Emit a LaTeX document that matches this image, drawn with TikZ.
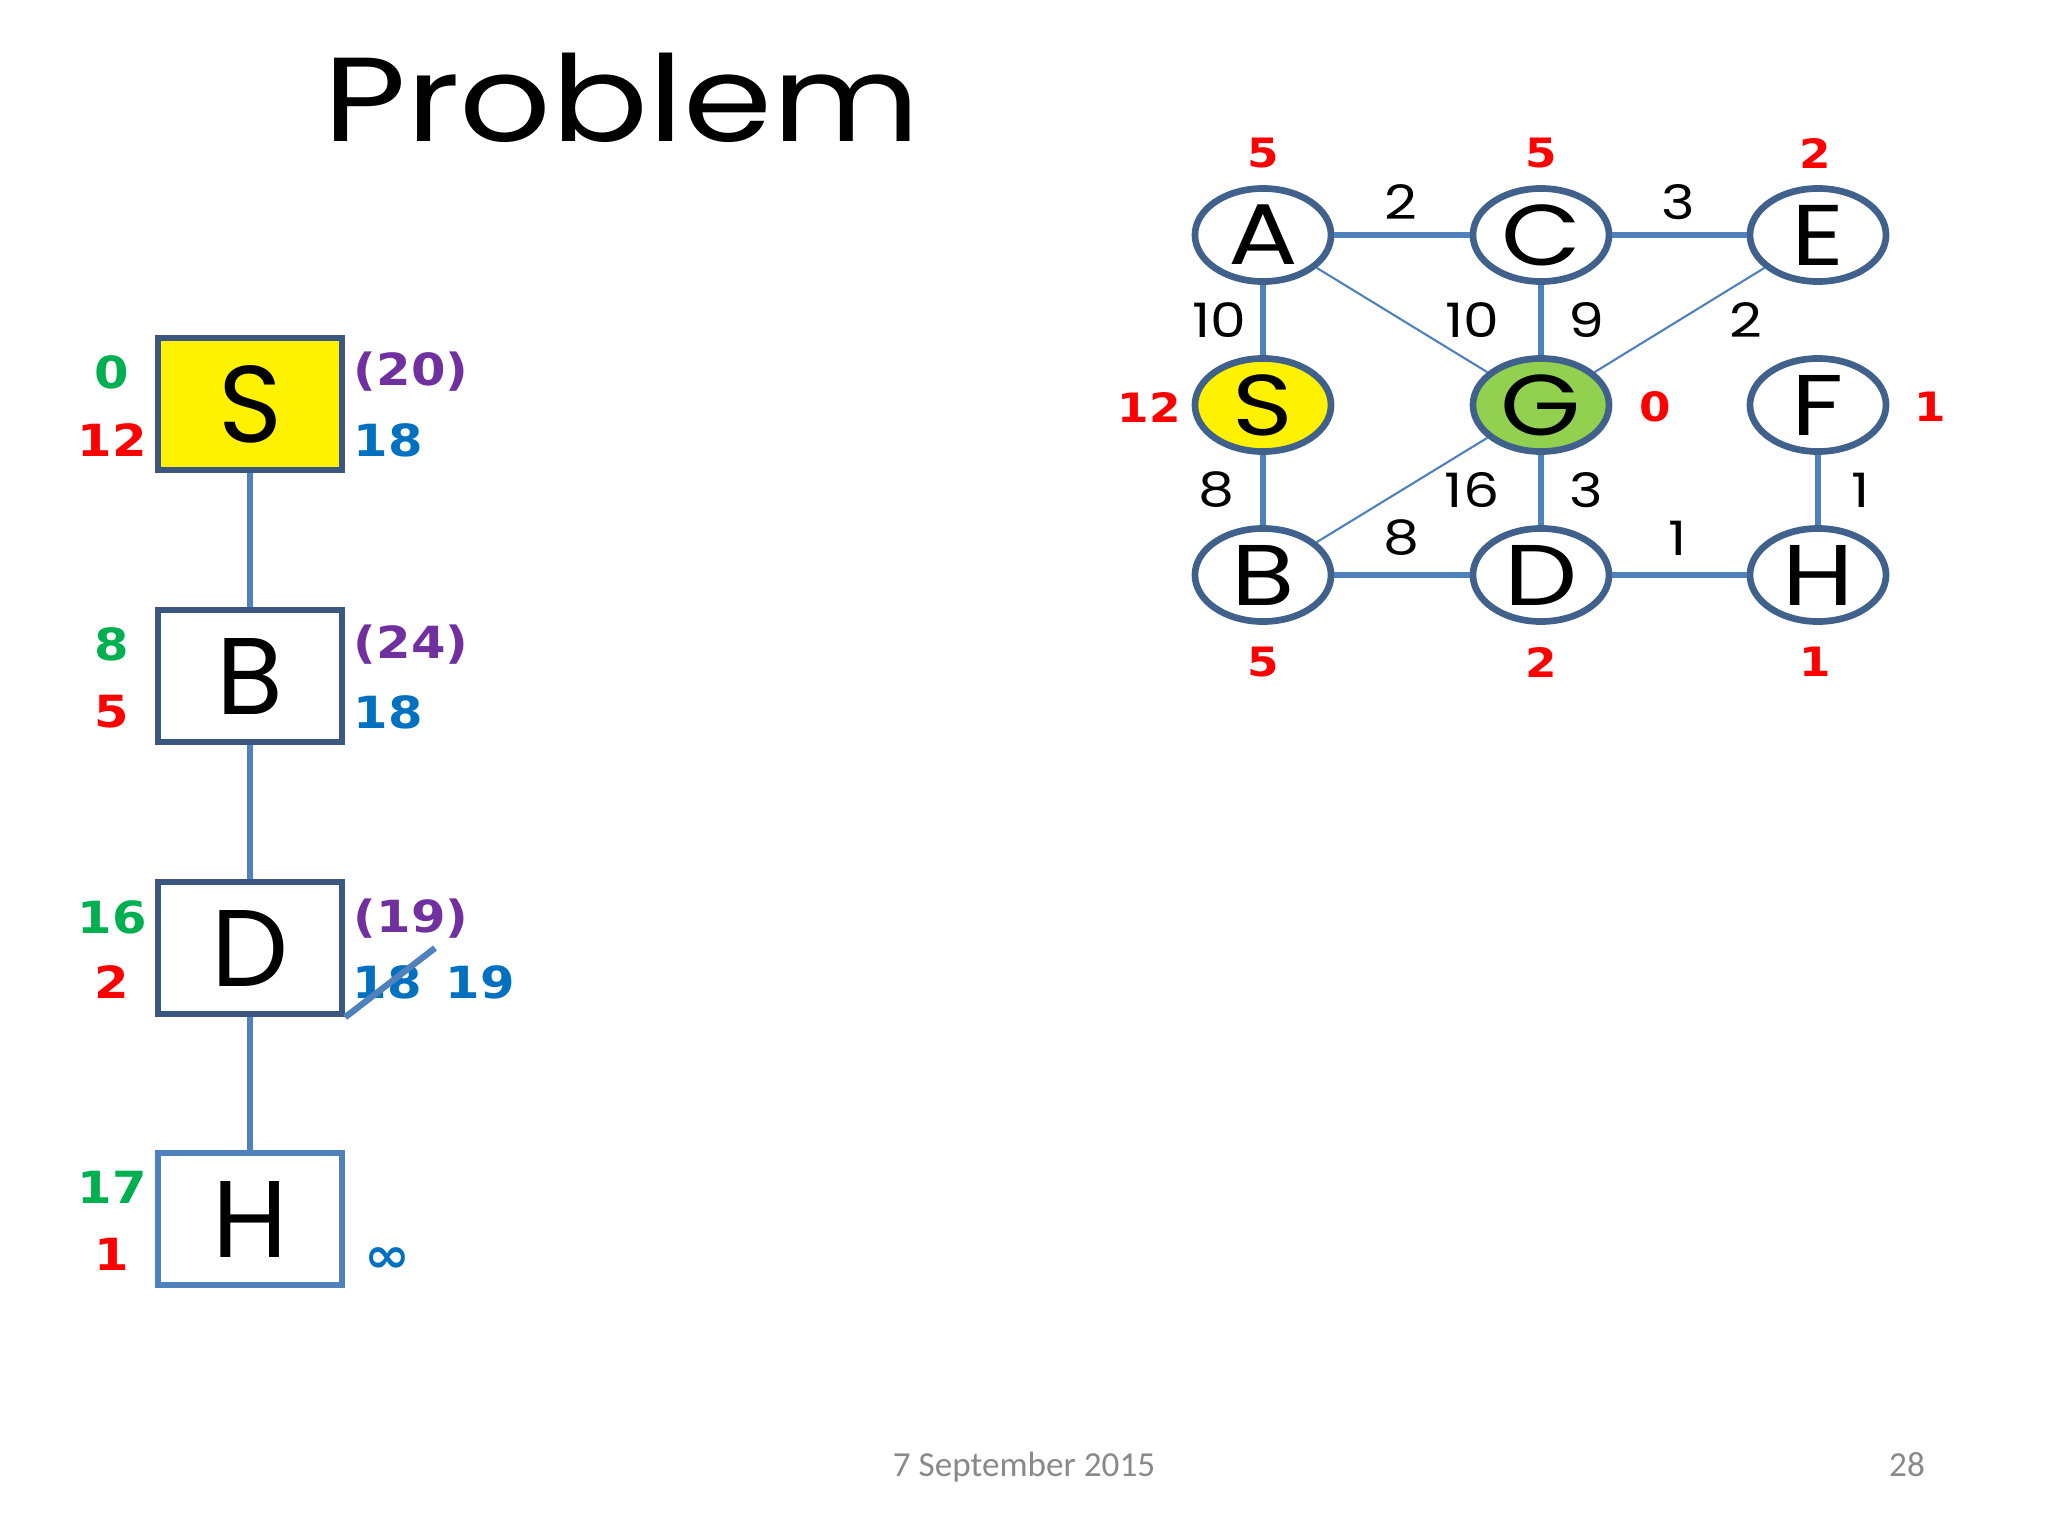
\documentclass[tikz,border=0pt]{standalone}
\usepackage{fontspec}
\usepackage{tikz}
\usetikzlibrary{shapes.geometric}
\setmainfont{Poppins}
\newfontfamily\widefont[FakeStretch=1.2]{Poppins}
\newfontfamily\numfont[FakeStretch=1.12]{DejaVu Sans}
\newfontfamily\footfont{Carlito}
\definecolor{EdgeBlue}{RGB}{79,129,189}
\definecolor{RingBlue}{RGB}{65,97,141}
\definecolor{BoxBlue}{RGB}{59,87,128}
\definecolor{HRed}{RGB}{255,0,0}
\definecolor{GGreen}{RGB}{0,176,80}
\definecolor{FPurple}{RGB}{112,48,160}
\definecolor{CBlue}{RGB}{0,112,192}
\definecolor{GoalGreen}{RGB}{146,208,80}
\definecolor{FootGray}{RGB}{137,137,137}
\tikzset{
  gv/.style={ellipse,draw=RingBlue,fill=white,line width=1.9pt,inner sep=0pt,
    minimum width=1.36cm,minimum height=0.93cm,font=\widefont\fontsize{24.5}{24.5}\selectfont},
  thickedge/.style={draw=EdgeBlue,line width=1.5pt},
  thinedge/.style={draw=EdgeBlue,line width=0.6pt},
  wlabel/.style={inner sep=0pt,font=\widefont\fontsize{13.5}{13.5}\selectfont},
  redval/.style={inner sep=0pt,text=HRed,font=\numfont\bfseries\fontsize{11.5}{11.5}\selectfont},
  treebox/.style={rectangle,draw=BoxBlue,fill=white,line width=1.8pt,
    minimum width=1.84cm,minimum height=1.32cm,font=\fontsize{31}{31}\selectfont},
  treeedge/.style={draw=EdgeBlue,line width=1.6pt},
  tval/.style={inner sep=0pt,font=\numfont\bfseries\fontsize{12.6}{12.6}\selectfont},
  strike/.style={draw=EdgeBlue,line width=1.8pt},
}

\begin{document}
\begin{tikzpicture}[x=0.01cm,y=-0.01cm]
  \useasboundingbox (0,0) rectangle (2048,1536);
  \node[anchor=base,inner sep=0pt,font=\widefont\fontsize{34}{34}\selectfont] (title) at (622,141) {Problem};

  % search tree
  \node[treebox,fill=yellow] (tS) at (250,404) {S};
  \node[treebox] (tB) at (250,676) {B};
  \node[treebox] (tD) at (250,948) {D};
  \node[treebox,draw=EdgeBlue] (tH) at (250,1219) {H};
  \draw[treeedge] (tS) -- (tB);
  \draw[treeedge] (tB) -- (tD);
  \draw[treeedge] (tD) -- (tH);

  \node[tval,text=GGreen] (gS) at (112,372) {0};
  \node[tval,text=HRed] (hS) at (112,440) {12};
  \node[tval,text=FPurple] (fS) at (411,372) {(20)};
  \node[tval,text=CBlue] (cS) at (388,440) {18};
  \node[tval,text=GGreen] (gB) at (112,644) {8};
  \node[tval,text=HRed] (hB) at (112,712) {5};
  \node[tval,text=FPurple] (fB) at (411,645) {(24)};
  \node[tval,text=CBlue] (cB) at (388,712) {18};
  \node[tval,text=GGreen] (gD) at (112,917) {16};
  \node[tval,text=HRed] (hD) at (112,982) {2};
  \node[tval,text=FPurple] (fD) at (411,919) {(19)};
  \node[tval,text=CBlue] (cD) at (387,982) {18};
  \node[tval,text=CBlue] (cDnew) at (480,982) {19};
  \node[tval,text=GGreen] (gH) at (112,1187) {17};
  \node[tval,text=HRed] (hH) at (112,1254) {1};
  \node[tval,text=CBlue,font=\numfont\bfseries\fontsize{14}{14}\selectfont] (cH) at (387,1260) {∞};
  \coordinate (strikeEnd) at (435,948);
  \draw[strike] (tD.south east) -- (strikeEnd);

  % graph
  \node[gv] (A) at (1263,235) {A};
  \node[gv] (C) at (1541,235) {C};
  \node[gv] (E) at (1818,235) {E};
  \node[gv,fill=yellow] (S) at (1263,405) {S};
  \node[gv,fill=GoalGreen] (G) at (1541,405) {G};
  \node[gv] (F) at (1818,405) {F};
  \node[gv] (B) at (1263,575) {B};
  \node[gv] (D) at (1541,575) {D};
  \node[gv] (H) at (1818,575) {H};
  \draw[thickedge] (A) -- (C);
  \draw[thickedge] (C) -- (E);
  \draw[thickedge] (A) -- (S);
  \draw[thickedge] (C) -- (G);
  \draw[thickedge] (S) -- (B);
  \draw[thickedge] (G) -- (D);
  \draw[thickedge] (F) -- (H);
  \draw[thickedge] (B) -- (D);
  \draw[thickedge] (D) -- (H);
  \draw[thinedge] (A) -- (G);
  \draw[thinedge] (E) -- (G);
  \draw[thinedge] (B) -- (G);

  \node[wlabel] (wAC) at (1401,202) {2};
  \node[wlabel] (wCE) at (1678,202) {3};
  \node[wlabel] (wAS) at (1219,320) {10};
  \node[wlabel] (wAG) at (1472,320) {10};
  \node[wlabel] (wCG) at (1586,320) {9};
  \node[wlabel] (wEG) at (1746,320) {2};
  \node[wlabel] (wSB) at (1216,490) {8};
  \node[wlabel] (wBG) at (1472,490) {16};
  \node[wlabel] (wGD) at (1586,490) {3};
  \node[wlabel] (wFH) at (1861,490) {1};
  \node[wlabel] (wBD) at (1401,538) {8};
  \node[wlabel] (wDH) at (1678,538) {1};

  \node[redval] (hA) at (1263,153) {5};
  \node[redval] (hC) at (1541,153) {5};
  \node[redval] (hE) at (1815,153) {2};
  \node[redval] (hSg) at (1149,407) {12};
  \node[redval] (hG) at (1655,407) {0};
  \node[redval] (hF) at (1930,407) {1};
  \node[redval] (hBg) at (1263,662) {5};
  \node[redval] (hDg) at (1541,662) {2};
  \node[redval] (hHg) at (1815,662) {1};

  \node[anchor=base,inner sep=0pt,text=FootGray,font=\footfont\fontsize{10}{10}\selectfont] (date) at (1024,1476) {7 September 2015};
  \node[anchor=base,inner sep=0pt,text=FootGray,font=\footfont\fontsize{10}{10}\selectfont] (page) at (1907,1476) {28};
\end{tikzpicture}
\end{document}
